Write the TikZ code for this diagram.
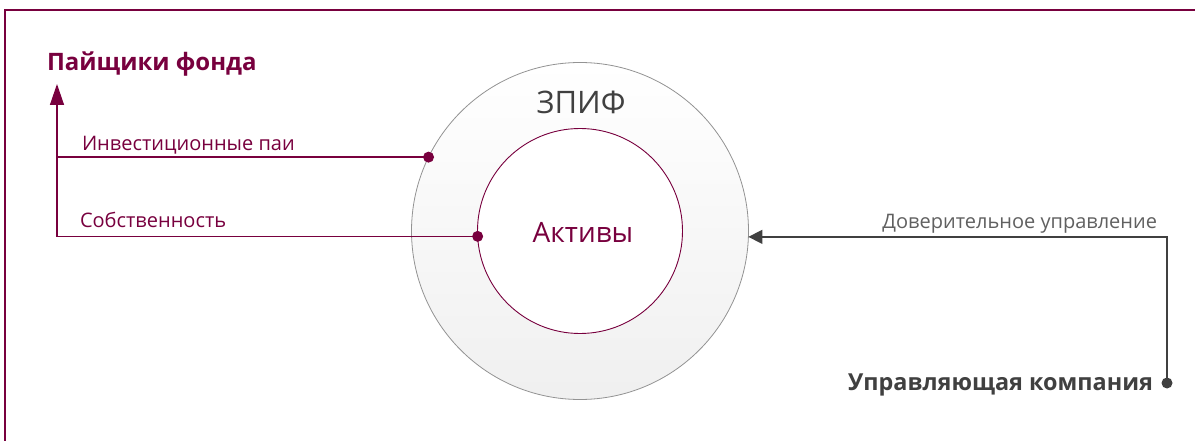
\documentclass[tikz,border=0pt]{standalone}
\usepackage{fontspec}
\setmainfont{Open Sans}
\usetikzlibrary{arrows.meta}
\definecolor{fund}{RGB}{120,0,62}
\definecolor{dgray}{RGB}{64,64,64}
\definecolor{lgray}{RGB}{96,96,96}
\begin{document}
\begin{tikzpicture}[x=1pt,y=-1pt]
  \tikzstyle{every node}=[inner sep=0pt, outer sep=0pt]
  \tikzstyle{flowtext}=[font=\fontsize{20}{23}\selectfont]
  \tikzstyle{fundline}=[draw=fund, line width=1.4pt]
  \tikzstyle{grayline}=[draw=dgray, line width=1.4pt]
  \tikzstyle{enddot}=[circle, minimum size=11pt]
  \useasboundingbox (0,0) rectangle (1195,441);
  \clip (0,0) rectangle (1195,441);
  \draw[fund, line width=1.3pt] (5,460) -- (5,10) -- (1210,10);

  \node[circle, draw=gray!85, line width=0.8pt, top color=white, bottom color=black!6, minimum size=337pt] (zpif) at (580,231) {};
  \node[circle, draw=fund, line width=0.9pt, fill=white, minimum size=205pt] (aktivy) at (580,231) {};
  \node[anchor=base, text=dgray, font=\fontsize{31}{34}\selectfont] (zpiftext) at (581,114) {ЗПИФ};
  \node[anchor=base, text=fund, font=\fontsize{28}{31}\selectfont] (aktivytext) at (583,242) {Активы};

  \node[anchor=base west, text=fund, font=\fontsize{24}{28}\selectfont\bfseries] (pajshchiki) at (47,71) {Пайщики фонда};
  \coordinate (top) at (57,84);
  \node[flowtext, anchor=base west, text=fund] (pai) at (82,151) {Инвестиционные паи};
  \node[flowtext, anchor=base west, text=fund] (sobst) at (80,228) {Собственность};
  \draw[fundline] (zpif.154) -- (zpif.154 -| top);
  \draw[fundline, -{Triangle[length=21pt,width=14pt]}] (aktivy.183) -- (aktivy.183 -| top) -- (top);
  \node[enddot, fill=fund] (paidot) at (zpif.154) {};
  \node[enddot, fill=fund] (sobstdot) at (aktivy.183) {};

  \node[flowtext, anchor=base east, text=lgray] (dover) at (1157,229) {Доверительное управление};
  \node[anchor=base east, text=dgray, font=\fontsize{23.4}{27}\selectfont\bfseries] (uk) at (1153,390) {Управляющая компания};
  \coordinate (ukend) at (1167,383);
  \draw[grayline, -{Triangle[length=14pt,width=14pt]}] (ukend) |- (zpif.-2.5);
  \node[enddot, fill=dgray] (ukdot) at (ukend) {};
\end{tikzpicture}
\end{document}
